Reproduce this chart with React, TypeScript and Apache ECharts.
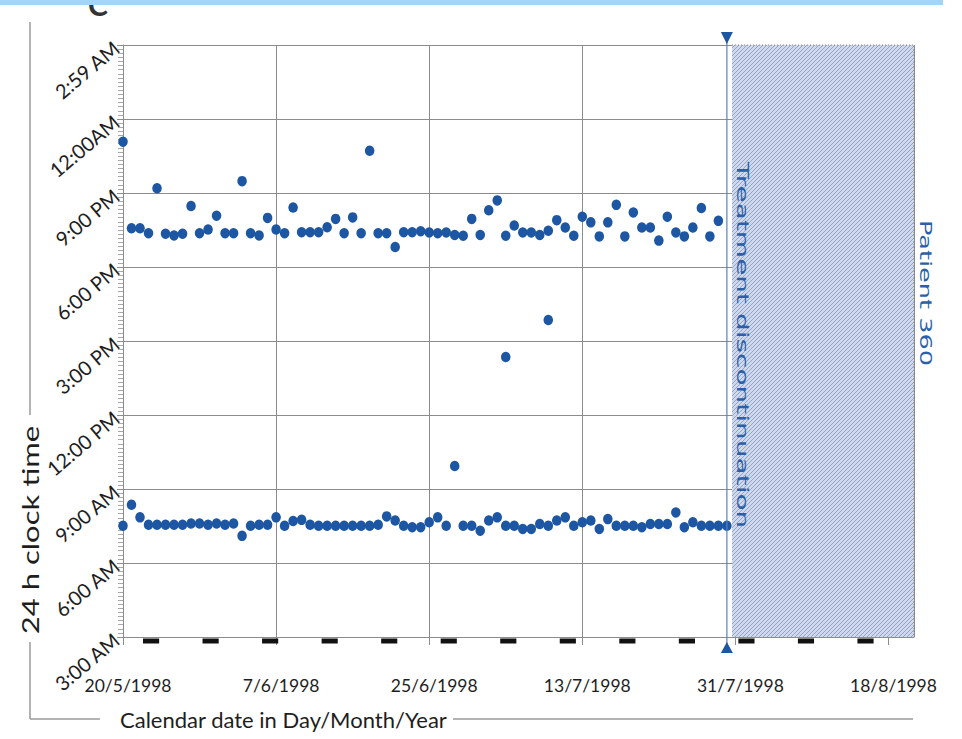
import React, { useEffect, useRef } from "react";
import * as echarts from "echarts";

// x: days since 20/5/1998 ; y: clock hour (3 = 3:00 AM ... 27 = 2:59 AM next day)
const xTickLabels = ["20/5/1998", "7/6/1998", "25/6/1998", "13/7/1998", "31/7/1998", "18/8/1998"];
const yTickLabels = ["3:00 AM", "6:00 AM", "9:00 AM", "12:00 PM", "3:00 PM", "6:00 PM", "9:00 PM", "12:00AM", "2:59 AM"];

// morning dose times, day 0..71
const morningTimes = [
  7.51, 8.36, 7.85, 7.55, 7.55, 7.55, 7.55, 7.55, 7.6, 7.6, 7.55, 7.6, 7.55, 7.6, 7.1, 7.51, 7.55, 7.55,
  7.85, 7.51, 7.7, 7.75, 7.55, 7.51, 7.51, 7.51, 7.51, 7.51, 7.51, 7.51, 7.55, 7.89, 7.72, 7.51, 7.45,
  7.45, 7.65, 7.85, 7.51, 9.93, 7.51, 7.51, 7.31, 7.72, 7.85, 7.51, 7.51, 7.38, 7.38, 7.58, 7.51, 7.72,
  7.85, 7.51, 7.65, 7.72, 7.38, 7.78, 7.51, 7.51, 7.51, 7.45, 7.58, 7.58, 7.58, 8.05, 7.45, 7.65, 7.51,
  7.51, 7.51, 7.51,
];

// evening dose times, day 0..70
const eveningTimes = [
  23.08, 19.57, 19.57, 19.37, 21.19, 19.35, 19.28, 19.35, 20.47, 19.37, 19.52, 20.08, 19.37, 19.37, 21.48,
  19.37, 19.28, 19.99, 19.52, 19.37, 20.41, 19.41, 19.41, 19.41, 19.61, 19.95, 19.37, 20.01, 19.37, 22.71,
  19.37, 19.37, 18.81, 19.41, 19.41, 19.45, 19.4, 19.37, 19.4, 19.3, 19.27, 19.95, 19.3, 20.3, 20.7,
  19.27, 19.68, 19.4, 19.4, 19.3, 19.47, 19.9, 19.6, 19.27, 20.04, 19.81, 19.24, 19.81, 20.52, 19.24,
  20.21, 19.6, 19.6, 19.07, 20.04, 19.4, 19.24, 19.6, 20.39, 19.24, 19.87,
];

// additional openings [day, hour]
const extraDoses = [
  [45, 14.35],
  [50, 15.85],
];

// Saturdays (days since 20/5/1998, a Wednesday)
const weekendSaturdays = [3, 10, 17, 24, 31, 38, 45, 52, 59, 66, 73, 80, 87];
const discontinuationDay = [71];
const unobservedRange = [71.6, 93];

const DOT = "#1d57a3";
const BLUE_TEXT = "#2c5fa8";
const GRID = "#8c8c8c";

function makeHatch() {
  const c = document.createElement("canvas");
  c.width = 4;
  c.height = 4;
  const g = c.getContext("2d");
  if (g) {
    g.fillStyle = "#d0d9ec";
    g.fillRect(0, 0, 4, 4);
    g.strokeStyle = "#93a6c8";
    g.lineWidth = 1;
    g.beginPath();
    g.moveTo(0, 4);
    g.lineTo(4, 0);
    g.moveTo(-1, 1);
    g.lineTo(1, -1);
    g.moveTo(3, 5);
    g.lineTo(5, 3);
    g.stroke();
  }
  return c;
}

export default function App() {
  const ref = useRef<HTMLDivElement>(null);

  useEffect(() => {
    if (!ref.current) return;
    const chart = echarts.init(ref.current, null, { renderer: "svg" });
    const hatch = makeHatch();
    const dotStyle = { color: DOT, opacity: 1 };

    const option: any = {
      animation: false,
      grid: { left: 123, right: 48, top: 45, bottom: 102, outerBoundsMode: "none" },
      xAxis: {
        type: "value",
        min: 0,
        max: 93,
        interval: 18,
        axisLine: { show: true, lineStyle: { color: GRID, width: 1 } },
        axisTick: { show: true, length: 8, lineStyle: { color: GRID } },
        axisLabel: {
          margin: 39,
          fontFamily: "Lato",
          fontSize: 17.5,
          color: "#1e1e1e",
          padding: [0, 0, 0, 10],
          showMaxLabel: false,
          formatter: (v: number) => {
            const i = Math.round(v / 18);
            return Math.abs(v - i * 18) < 1e-6 && xTickLabels[i] ? xTickLabels[i] : "";
          },
        },
        splitLine: { show: true, lineStyle: { color: GRID, width: 1 } },
      },
      yAxis: {
        type: "value",
        min: 3,
        max: 27,
        interval: 3,
        axisLine: { show: true, lineStyle: { color: GRID, width: 1 } },
        axisTick: { show: true, length: 6, lineStyle: { color: GRID } },
        minorTick: { show: true, splitNumber: 18, length: 5, lineStyle: { color: "#a8a8a8" } },
        axisLabel: {
          rotate: 40,
          margin: 7,
          fontFamily: "Lato",
          fontSize: 20,
          color: "#1e1e1e",
          formatter: (v: number) => {
            const i = Math.round((v - 3) / 3);
            return Math.abs(v - (3 + i * 3)) < 1e-6 && yTickLabels[i] ? yTickLabels[i] : "";
          },
        },
        splitLine: { show: true, lineStyle: { color: GRID, width: 1 } },
      },
      series: [
        {
          type: "custom",
          name: "unobserved",
          silent: true,
          z: 3,
          data: [unobservedRange],
          renderItem: (params: any, api: any) => {
            const a = api.coord([api.value(0), 27]);
            const b = api.coord([api.value(1), 3]);
            return {
              type: "group",
              children: [
                {
                  type: "rect",
                  shape: { x: a[0], y: a[1], width: b[0] - a[0], height: b[1] - a[1] },
                  style: { fill: { image: hatch, repeat: "repeat" } },
                },
                {
                  type: "polyline",
                  shape: { points: [[a[0], a[1]], [b[0], a[1]], [b[0], b[1]]] },
                  style: { stroke: "#7f7f7f", lineWidth: 1, lineDash: [1, 2], fill: "none" },
                },
              ],
            };
          },
        },
        {
          type: "scatter",
          name: "morning",
          z: 4,
          symbol: "circle",
          symbolSize: [9.5, 10.5],
          itemStyle: dotStyle,
          data: morningTimes.map((h, i) => [i, h]),
        },
        {
          type: "scatter",
          name: "evening",
          z: 4,
          symbol: "circle",
          symbolSize: [9.5, 10.5],
          itemStyle: dotStyle,
          data: eveningTimes.map((h, i) => [i, h]),
        },
        {
          type: "scatter",
          name: "extra",
          z: 4,
          symbol: "circle",
          symbolSize: [9.5, 10.5],
          itemStyle: dotStyle,
          data: extraDoses,
        },
        {
          type: "custom",
          name: "weekends",
          silent: true,
          clip: false,
          z: 5,
          data: weekendSaturdays.map((d) => [d]),
          renderItem: (params: any, api: any) => {
            const d = api.value(0);
            const a = api.coord([d - 0.65, 3]);
            const b = api.coord([d + 1.25, 3]);
            return {
              type: "rect",
              shape: { x: a[0], y: a[1] + 1.5, width: b[0] - a[0], height: 5 },
              style: { fill: "#111" },
            };
          },
        },
        {
          type: "custom",
          name: "discontinuation",
          silent: true,
          clip: false,
          z: 6,
          data: [discontinuationDay],
          renderItem: (params: any, api: any) => {
            const d = api.value(0);
            const top = api.coord([d, 27]);
            const bot = api.coord([d, 3]);
            const x = top[0];
            return {
              type: "group",
              children: [
                {
                  type: "line",
                  shape: { x1: x, y1: top[1] - 8, x2: x, y2: bot[1] + 8 },
                  style: { stroke: "#5582c2", lineWidth: 1.2 },
                },
                {
                  type: "polygon",
                  shape: { points: [[x - 6, top[1] - 13], [x + 6, top[1] - 13], [x, top[1] - 1]] },
                  style: { fill: DOT },
                },
                {
                  type: "polygon",
                  shape: { points: [[x - 6, bot[1] + 16], [x + 6, bot[1] + 16], [x, bot[1] + 5]] },
                  style: { fill: DOT },
                },
                {
                  type: "text",
                  x: x + 16,
                  y: (top[1] + bot[1]) / 2 + 4,
                  rotation: -Math.PI / 2,
                  scaleX: 1.75,
                  style: {
                    text: "Treatment discontinuation",
                    fill: BLUE_TEXT,
                    font: '16px "DejaVu Sans"',
                    align: "center",
                    verticalAlign: "middle",
                  },
                },
              ],
            };
          },
        },
      ],
      graphic: [
        {
          type: "text",
          x: 88,
          y: 19,
          style: { text: "C", font: "bold 30px Lato", fill: "#333", align: "left", verticalAlign: "bottom" },
        },
        { type: "rect", shape: { x: 0, y: 0, width: 943, height: 5 }, style: { fill: "#a3d5f7" } },
        { type: "line", shape: { x1: 30, y1: 22, x2: 30, y2: 415 }, style: { stroke: "#9a9a9a", lineWidth: 1.5 } },
        { type: "line", shape: { x1: 30, y1: 642, x2: 30, y2: 719 }, style: { stroke: "#9a9a9a", lineWidth: 1.5 } },
        { type: "line", shape: { x1: 30, y1: 719, x2: 100, y2: 719 }, style: { stroke: "#9a9a9a", lineWidth: 1.5 } },
        { type: "line", shape: { x1: 453, y1: 719, x2: 913, y2: 719 }, style: { stroke: "#9a9a9a", lineWidth: 1.5 } },
        {
          type: "text",
          x: 30,
          y: 530,
          rotation: Math.PI / 2,
          scaleX: 1.35,
          style: { text: "24 h clock time", font: "23px Lato", fill: "#1e1e1e", align: "center", verticalAlign: "middle" },
        },
        {
          type: "text",
          x: 120,
          y: 719,
          style: {
            text: "Calendar date in Day/Month/Year",
            font: "22px Lato",
            fill: "#1e1e1e",
            align: "left",
            verticalAlign: "middle",
          },
        },
        {
          type: "text",
          x: 926,
          y: 293,
          rotation: -Math.PI / 2,
          scaleX: 1.6,
          style: {
            text: "Patient 360",
            font: '16px "DejaVu Sans"',
            fill: BLUE_TEXT,
            align: "center",
            verticalAlign: "middle",
          },
        },
      ],
    };

    chart.setOption(option);
    return () => chart.dispose();
  }, []);

  return (
    <div
      ref={ref}
      style={{ position: "fixed", left: 0, top: 0, width: 962, height: 739, background: "#fff" }}
    />
  );
}
